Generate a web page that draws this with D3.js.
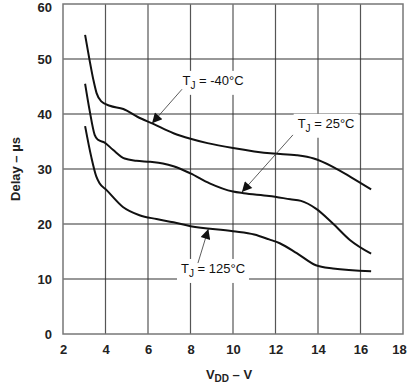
<!DOCTYPE html>
<html>
<head>
<meta charset="utf-8">
<script src="https://cdn.jsdelivr.net/npm/d3@7"></script>
<style>
  body { margin: 0; background: #fff; }
  text { font-family: "Liberation Sans", Arial, sans-serif; }
</style>
</head>
<body>
<div id="chart"></div>
<script>
// chart data
const xTicks = [2, 4, 6, 8, 10, 12, 14, 16, 18];
const yTicks = [0, 10, 20, 30, 40, 50, 60];

const vddM40 = [3.04, 3.25, 3.43, 3.58, 3.8, 4.2, 4.84, 5.5, 6.25, 7.2, 8.0, 8.8, 10.0, 11.0, 11.9, 13.0, 13.8, 14.7, 15.6, 16.5];
const delayM40 = [54.4, 49.8, 46.2, 43.8, 42.3, 41.5, 40.9, 39.5, 38.2, 36.5, 35.5, 34.7, 33.8, 33.2, 32.8, 32.5, 31.9, 30.4, 28.4, 26.3];

const vdd25 = [3.04, 3.25, 3.49, 3.65, 3.96, 4.35, 4.9, 5.45, 6.1, 6.7, 7.2, 8.0, 8.9, 10.0, 10.5, 11.7, 12.7, 13.2, 13.9, 14.7, 15.5, 16.5];
const delay25 = [45.5, 40.7, 36.2, 35.3, 34.8, 33.5, 31.9, 31.5, 31.3, 31.0, 30.5, 29.2, 27.4, 25.9, 25.6, 25.1, 24.5, 24.2, 22.8, 20.1, 17.1, 14.6];

const vdd125 = [3.04, 3.33, 3.57, 3.72, 4.04, 4.82, 5.6, 6.4, 7.2, 8.0, 10.0, 11.0, 11.7, 12.2, 13.0, 13.9, 14.7, 16.5];
const delay125 = [37.8, 32.2, 28.6, 27.4, 26.2, 23.1, 21.6, 20.9, 20.3, 19.6, 18.7, 18.1, 17.2, 16.5, 14.7, 12.5, 11.9, 11.4];

// label text spot and arrow, in data units
const notes = [
  { name: "-40°C", tx: 9.06, ty: 45.3, ax: 7.6, ay: 44.5, bx: 6.19, by: 38.3 },
  { name: "25°C", tx: 14.38, ty: 37.5, ax: 12.82, ay: 36.2, bx: 10.42, by: 25.8 },
  { name: "125°C", tx: 9.06, ty: 11.1, ax: 8.35, ay: 12.9, bx: 8.84, by: 19.1 }
];

const svgWidth = 409;
const svgHeight = 386;
const margin = { top: 4, right: 6, bottom: 52, left: 63 };
const width = svgWidth - margin.left - margin.right;
const height = svgHeight - margin.top - margin.bottom;

const svg = d3.select("#chart")
  .append("svg")
  .attr("width", svgWidth)
  .attr("height", svgHeight);

const chartGroup = svg.append("g")
  .attr("transform", `translate(${margin.left}, ${margin.top})`);

const x = d3.scaleLinear().domain([2, 18]).range([0, width]);
const y = d3.scaleLinear().domain([0, 60]).range([height, 0]);

// grid
chartGroup.append("g")
  .selectAll("line")
  .data(xTicks.slice(1, -1))
  .enter()
  .append("line")
  .attr("x1", d => x(d)).attr("x2", d => x(d))
  .attr("y1", 0).attr("y2", height)
  .attr("stroke", "#555").attr("stroke-width", 1.2);

chartGroup.append("g")
  .selectAll("line")
  .data(yTicks.slice(1, -1))
  .enter()
  .append("line")
  .attr("x1", 0).attr("x2", width)
  .attr("y1", d => y(d)).attr("y2", d => y(d))
  .attr("stroke", "#333").attr("stroke-width", 1.2);

chartGroup.append("rect")
  .attr("width", width).attr("height", height)
  .attr("fill", "none").attr("stroke", "#777").attr("stroke-width", 1.5);

// axes (tick labels only)
const bottomAxis = d3.axisBottom(x).tickValues(xTicks).tickSize(0).tickPadding(11);
const leftAxis = d3.axisLeft(y).tickValues(yTicks).tickSize(0).tickPadding(11);

const xAxisG = chartGroup.append("g")
  .attr("transform", `translate(0, ${height})`)
  .call(bottomAxis);
const yAxisG = chartGroup.append("g").call(leftAxis);

[xAxisG, yAxisG].forEach(g => {
  g.select(".domain").remove();
  g.selectAll("text")
    .attr("font-family", "Liberation Sans, Arial, sans-serif")
    .attr("font-size", "13px")
    .attr("font-weight", "bold")
    .attr("fill", "#222");
});
// keep the edge labels inside the picture
yAxisG.selectAll("text").filter(d => d === 60).attr("dy", "0.6em");
xAxisG.selectAll("text").filter(d => d === 18).attr("dx", -4);

// curves
const line = d3.line()
  .x(d => x(d[0]))
  .y(d => y(d[1]))
  .curve(d3.curveMonotoneX);

const curves = [
  d3.zip(vddM40, delayM40),
  d3.zip(vdd25, delay25),
  d3.zip(vdd125, delay125)
];

chartGroup.selectAll("path.curve")
  .data(curves)
  .enter()
  .append("path")
  .attr("class", "curve")
  .attr("d", line)
  .attr("fill", "none")
  .attr("stroke", "#111")
  .attr("stroke-width", 2);

// labels with white boxes and arrows
svg.append("defs").append("marker")
  .attr("id", "head")
  .attr("viewBox", "0 0 10 10")
  .attr("refX", 10).attr("refY", 5)
  .attr("markerWidth", 12).attr("markerHeight", 10)
  .attr("markerUnits", "userSpaceOnUse")
  .attr("orient", "auto")
  .append("path")
  .attr("d", "M0,0 L10,5 L0,10 z")
  .attr("fill", "#111");

notes.forEach(n => {
  const box = chartGroup.append("rect").attr("fill", "#fff");
  const t = chartGroup.append("text")
    .attr("x", x(n.tx))
    .attr("y", y(n.ty))
    .attr("text-anchor", "middle")
    .attr("font-size", "13px")
    .attr("fill", "#111");
  t.append("tspan").text("T");
  t.append("tspan").attr("font-size", "10px").attr("dy", 4).text("J");
  t.append("tspan").attr("dy", -4).text(" = " + n.name);

  const bb = t.node().getBBox();
  box.attr("x", bb.x - 4).attr("y", bb.y - 2)
    .attr("width", bb.width + 8).attr("height", bb.height + 6);

  chartGroup.append("line")
    .attr("x1", x(n.ax)).attr("y1", y(n.ay))
    .attr("x2", x(n.bx)).attr("y2", y(n.by))
    .attr("stroke", "#333").attr("stroke-width", 0.8)
    .attr("marker-end", "url(#head)");
});

// axis titles
const xTitle = chartGroup.append("text")
  .attr("x", width / 2 - 4)
  .attr("y", height + 45)
  .attr("text-anchor", "middle")
  .attr("font-size", "13px")
  .attr("font-weight", "bold")
  .attr("fill", "#222");
xTitle.append("tspan").text("V");
xTitle.append("tspan").attr("font-size", "10px").attr("dy", 3).text("DD");
xTitle.append("tspan").attr("dy", -3).text(" \u2013 V");

chartGroup.append("text")
  .attr("transform", "rotate(-90)")
  .attr("x", -height / 2)
  .attr("y", -margin.left + 20)
  .attr("text-anchor", "middle")
  .attr("font-size", "13px")
  .attr("font-weight", "bold")
  .attr("fill", "#222")
  .text("Delay \u2013 \u00b5s");
</script>
</body>
</html>
